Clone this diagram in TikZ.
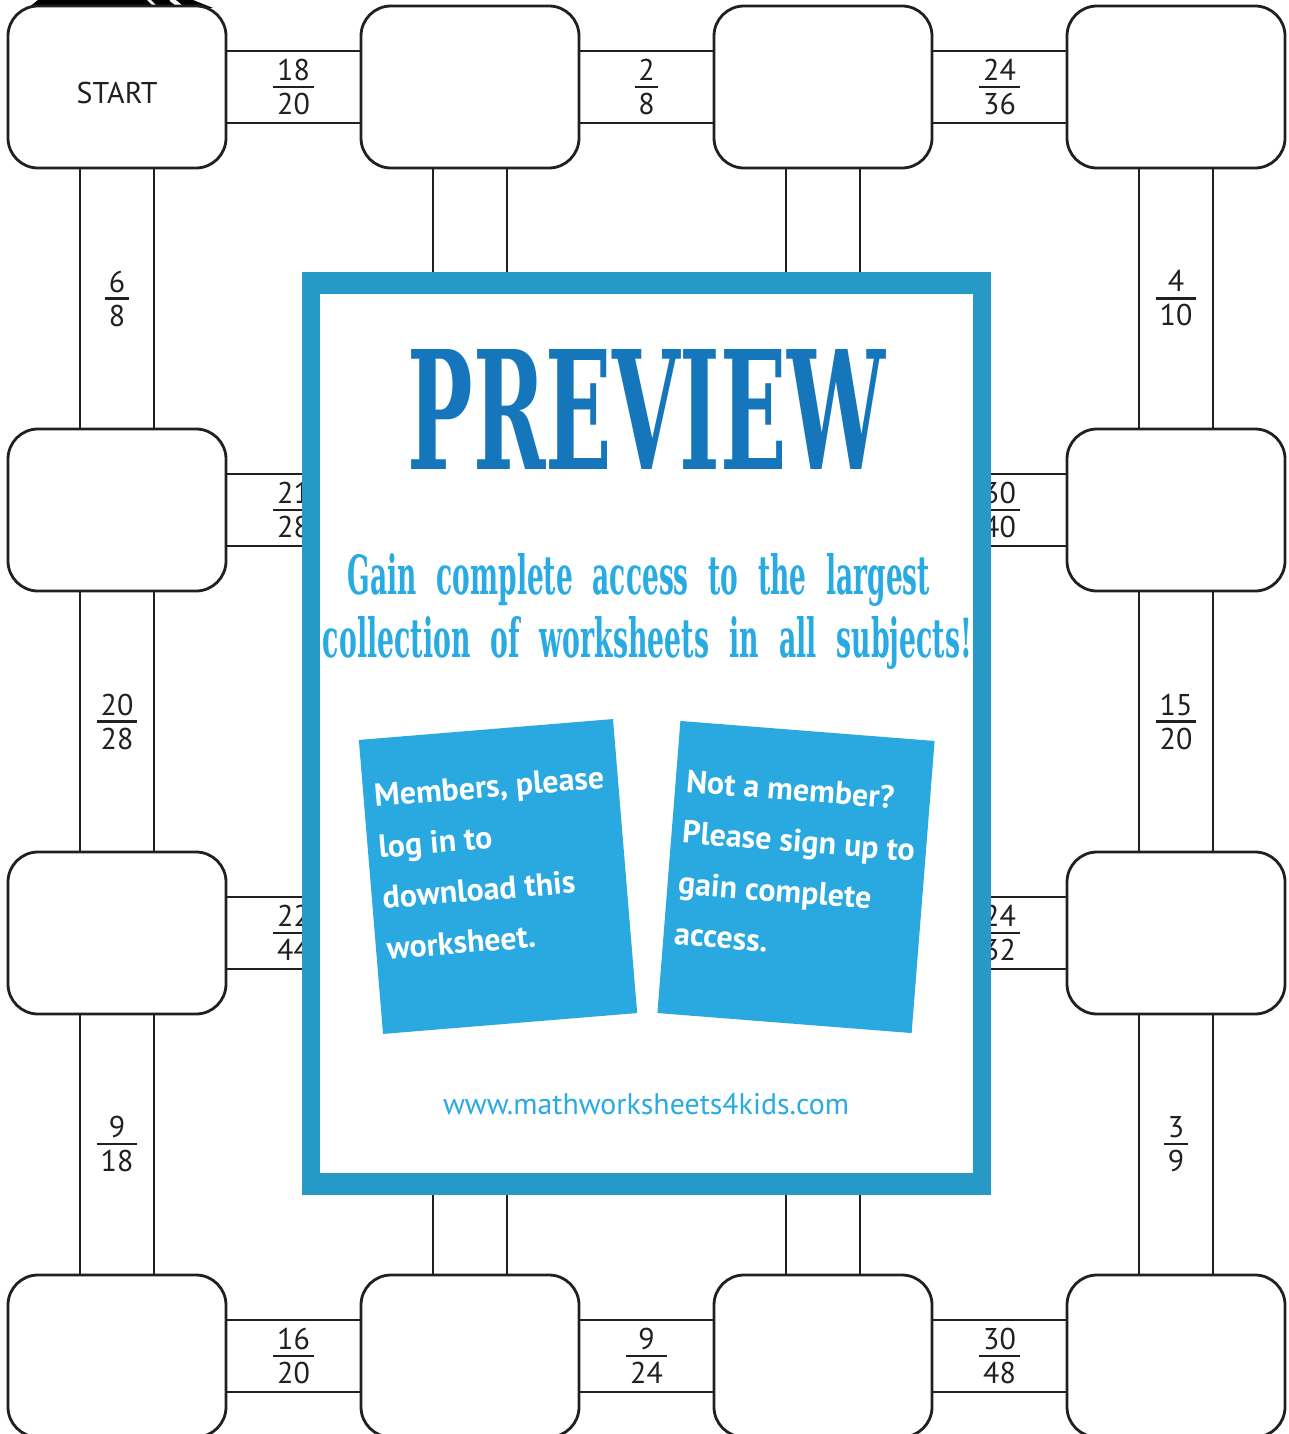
\documentclass[tikz,border=0pt]{standalone}
\usepackage{fontspec}
\usepackage{graphicx}
\setmainfont{PT Sans}
\newfontfamily\pvfont{DejaVu Serif}
\newfontfamily\cardfont{PT Sans}
\definecolor{ink}{HTML}{231F20}
\definecolor{pvframe}{HTML}{2699C6}
\definecolor{pvtitle}{HTML}{1576BC}
\definecolor{pvtext}{HTML}{29ABE2}
\definecolor{cardblue}{HTML}{29A9E0}
\newcommand\fracat[5]{%
  \node[frac] (#1) at (#2,#3) {#4\\#5};
  \draw[fracbar] ([xshift=-3.5pt]#1.west) -- ([xshift=3.5pt]#1.east);}
\begin{document}
\begin{tikzpicture}[x=1pt,y=-1pt,
  box/.style={draw=ink, line width=2.8pt, fill=white, rounded corners=30pt,
    minimum width=218pt, minimum height=162pt, inner sep=0pt, outer sep=0pt,
    text height=34pt, font=\fontsize{30}{34}\selectfont, text=ink},
  conn/.style={draw=ink, line width=2.6pt},
  frac/.style={font=\fontsize{30}{34}\selectfont, align=center, inner sep=0pt, text=ink},
  fracbar/.style={draw=ink, line width=2.5pt},
  card/.style={fill=cardblue, minimum width=255pt, inner sep=0pt, outer sep=0pt},
  cardtext/.style={font=\cardfont\bfseries\fontsize{32}{51}\selectfont, text=white, align=left, inner sep=0pt, anchor=north west}
]
\useasboundingbox (0,0) rectangle (1289,1434);
\fill[white] (0,0) rectangle (1289,1434);
% black shape peeking at top left
\fill[black] (28,8) -- (38,0) -- (193,0) -- (213,8) -- cycle;
\draw[white, line width=2.5pt] (148,-1) -- (157,8);
\draw[white, line width=4.5pt] (171,-1) -- (182,8);
% boxes
\foreach \r/\y in {1/87,2/510,3/933,4/1356}{
  \foreach \c/\x in {1/117,2/470,3/823,4/1176}{
    \node[box] (b\r\c) at (\x,\y) {\ifnum\r\c=11 START\fi};
  }}
% horizontal connectors
\foreach \r in {1,2,3,4}{
  \foreach \c/\d in {1/2,2/3,3/4}{
    \draw[conn] ([yshift=36pt]b\r\c.east) -- ([yshift=36pt]b\r\d.west);
    \draw[conn] ([yshift=-36pt]b\r\c.east) -- ([yshift=-36pt]b\r\d.west);
  }}
% vertical connectors
\foreach \c in {1,2,3,4}{
  \foreach \r/\s in {1/2,2/3,3/4}{
    \draw[conn] ([xshift=-37pt]b\r\c.south) -- ([xshift=-37pt]b\s\c.north);
    \draw[conn] ([xshift=37pt]b\r\c.south) -- ([xshift=37pt]b\s\c.north);
  }}
% fractions
\fracat{h11}{293.5}{87}{18}{20}
\fracat{h12}{646.5}{87}{2}{8}
\fracat{h13}{999.5}{87}{24}{36}
\fracat{h21}{293.5}{510}{21}{28}
\fracat{h23}{999.5}{510}{30}{40}
\fracat{h31}{293.5}{933}{22}{44}
\fracat{h33}{999.5}{933}{24}{32}
\fracat{h41}{293.5}{1356}{16}{20}
\fracat{h42}{646.5}{1356}{9}{24}
\fracat{h43}{999.5}{1356}{30}{48}
\fracat{v11}{117}{298.5}{6}{8}
\fracat{v21}{117}{721.5}{20}{28}
\fracat{v31}{117}{1144}{9}{18}
\fracat{v14}{1176}{298.5}{4}{10}
\fracat{v24}{1176}{721.5}{15}{20}
\fracat{v34}{1176}{1144}{3}{9}
% preview overlay
\fill[pvframe] (302,272) rectangle (991,1195);
\fill[white] (320,294) rectangle (973,1173);
\node[inner sep=0pt, text=pvtitle] (title) at (646.5,409)
  {\resizebox{477pt}{120pt}{\pvfont\bfseries PREVIEW}};
\node[inner sep=0pt, text=pvtext, anchor=base] (tag1) at (639,594)
  {\resizebox{582pt}{41pt}{\pvfont\bfseries\spaceskip=0.75em Gain complete access to the largest}};
\node[inner sep=0pt, text=pvtext, anchor=base] (tag2) at (647.5,657)
  {\resizebox{649pt}{41pt}{\pvfont\bfseries\spaceskip=0.75em collection of worksheets in all subjects!}};
\begin{scope}[shift={(498,876.5)}, rotate=4.7, transform shape]
  \node[card, minimum height=295pt] (card1) at (0,0) {};
  \node[cardtext] (card1txt) at (-117,-102) {Members, please\\log in to\\download this\\worksheet.};
\end{scope}
\begin{scope}[shift={(796,877)}, rotate=-4.5, transform shape]
  \node[card, minimum height=293pt] (card2) at (0,0) {};
  \node[cardtext] (card2txt) at (-117,-99) {Not a member?\\Please sign up to\\gain complete\\access.};
\end{scope}
\node[inner sep=0pt, text=pvtext, anchor=base] (url) at (646,1114)
  {\resizebox{406pt}{!}{\fontsize{28}{30}\selectfont www.mathworksheets4kids.com}};
\end{tikzpicture}
\end{document}
